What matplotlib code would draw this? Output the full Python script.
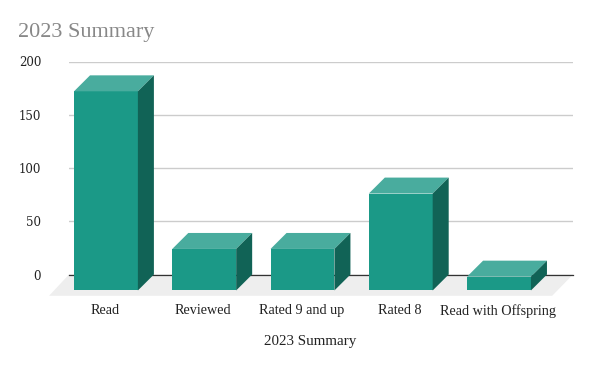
import matplotlib
matplotlib.use("Agg")
import matplotlib.pyplot as plt
from matplotlib.patches import Polygon

categories = ["Read", "Reviewed", "Rated 9 and up", "Rated 8", "Read with Offspring"]
values = [187, 39, 39, 91, 13]
yticks = [0, 50, 100, 150, 200]
titre = "2023 Summary"

police = "Liberation Serif"
largeur = 0.65
dx = 0.163
dy = 15

fig = plt.figure(figsize=(5.91, 3.66), dpi=100)
ax = fig.add_axes([69 / 591, (366 - 274.5) / 366, 504 / 591, 213 / 366])
ax.set_xlim(-0.539, 4.59)
ax.set_ylim(0, 200)

# sol gris sous le graphique
ax.add_patch(Polygon([(-0.539, 0), (4.59, 0), (4.59 - 0.212, -20), (-0.539 - 0.203, -20)],
                     facecolor="#eeeeee", edgecolor="none", clip_on=False, zorder=1))
ax.axhline(0, color="#333333", linewidth=0.9, clip_on=False, zorder=2)
ax.set_yticks(yticks)
ax.grid(axis="y", color="#cccccc", linewidth=1)
ax.set_axisbelow(True)

for i in range(len(values)):
    v = values[i]
    g = i - largeur / 2
    d = i + largeur / 2
    # face avant, dessus, côté droit
    ax.bar(i - dx, v, largeur, bottom=-dy, color="#1b9987", clip_on=False, zorder=3)
    ax.add_patch(Polygon([(g - dx, v - dy), (d - dx, v - dy), (d, v), (g, v)],
                         facecolor="#49ac9e", edgecolor="none", clip_on=False, zorder=3))
    ax.add_patch(Polygon([(d - dx, -dy), (d, 0), (d, v), (d - dx, v - dy)],
                         facecolor="#116356", edgecolor="none", clip_on=False, zorder=3))

ax.set_xticks([i - dx - 0.01 for i in range(len(categories))])
ax.set_xticklabels(categories, fontfamily=police, fontsize=10.2, color="#222222")
ax.tick_params(axis="x", length=0, pad=21.5)
ax.tick_params(axis="y", length=0, pad=20, labelsize=8.5, labelcolor="#222222",
               labelfontfamily="DejaVu Serif")
for s in ax.spines.values():
    s.set_visible(False)

fig.text(18 / 591, 1 - 33 / 366, titre, fontfamily=police, fontsize=16, color="#888888", va="center")
fig.text(310 / 591, 1 - 342 / 366, titre, fontfamily=police, fontsize=10.8, color="#222222",
         ha="center", va="center")

plt.savefig("out.png")
